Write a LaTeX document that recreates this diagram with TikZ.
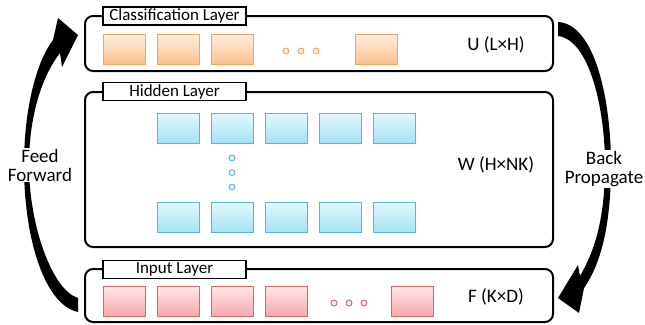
\documentclass[tikz,border=0pt]{standalone}
\usepackage{fontspec}
\setmainfont{Carlito}
\definecolor{obrd}{HTML}{F6A25A}
\definecolor{otop}{HTML}{FFEDDE}
\definecolor{obot}{HTML}{FBC08C}
\definecolor{bbrd}{HTML}{56B6D3}
\definecolor{btop}{HTML}{E2F8FD}
\definecolor{bbot}{HTML}{A4E2F4}
\definecolor{rbrd}{HTML}{D0686A}
\definecolor{rtop}{HTML}{FFE6E6}
\definecolor{rbot}{HTML}{F6A7A8}
\begin{document}
\begin{tikzpicture}[x=1pt,y=-1pt,
  layerbox/.style={draw, line width=2pt, rounded corners=8pt, inner sep=0pt, minimum width=468pt},
  tagbox/.style={draw, fill=white, line width=1.5pt, inner sep=0pt, minimum width=143pt, minimum height=18pt, font=\fontsize{17}{17}\selectfont},
  cell/.style={draw, line width=1pt, minimum width=42pt, minimum height=30pt, inner sep=0pt},
  ocell/.style={cell, draw=obrd, top color=otop, bottom color=obot},
  bcell/.style={cell, draw=bbrd, top color=btop, bottom color=bbot},
  rcell/.style={cell, draw=rbrd, top color=rtop, bottom color=rbot},
  dot/.style={circle, inner sep=0pt, minimum size=6pt, line width=0.9pt},
  odot/.style={dot, draw=obrd, fill=otop},
  bdot/.style={dot, draw=bbrd, fill=btop},
  rdot/.style={dot, draw=rbrd, fill=rtop},
  dims/.style={font=\fontsize{19}{19}\selectfont},
  sidelabel/.style={fill=white, align=center, inner sep=1pt, font=\fontsize{19}{19}\selectfont},
  bigarrow/.style={fill=black, draw=none}
]
\useasboundingbox (0,0) rectangle (645,324);

% arrows
\fill[bigarrow] (78,298) .. controls (52,290) and (29,225) .. (29,165)
  .. controls (29,110) and (45,72) .. (60,53)
  -- (62,67) -- (78,35) -- (58,18) -- (53,40)
  .. controls (36,62) and (24,110) .. (24,165)
  .. controls (24,240) and (45,305) .. (78,312) -- cycle;
\fill[bigarrow] (558,22) .. controls (595,24) and (611,100) .. (611,165)
  .. controls (611,228) and (600,265) .. (584,288)
  -- (579,313) -- (558,298) -- (578,265) -- (580,276)
  .. controls (594,252) and (605,220) .. (605,165)
  .. controls (605,110) and (590,40) .. (558,36) -- cycle;

\node[sidelabel] (ff) at (40,165) {Feed\\Forward};
\node[sidelabel] (bp) at (604,169) {Back\\Propagate};

% layer boxes
\node[layerbox, minimum height=55pt] (top) at (319,43.5) {};
\node[layerbox, minimum height=155pt] (hid) at (319,169.5) {};
\node[layerbox, minimum height=53pt] (inp) at (319,295.5) {};

\node[tagbox] (tt) at (174.5,16) {Classification Layer};
\node[tagbox] (th) at (174.5,91.5) {Hidden Layer};
\node[tagbox] (ti) at (174.5,269.5) {Input Layer};

% classification cells
\node[ocell] (o1) at (124,49.5) {};
\node[ocell] (o2) at (178,49.5) {};
\node[ocell] (o3) at (232,49.5) {};
\node[odot] (od1) at (286,51) {};
\node[odot] (od2) at (301,51) {};
\node[odot] (od3) at (316,51) {};
\node[ocell] (o4) at (376,49.5) {};
\node[dims] (u) at (496,45) {U (L×H)};

% hidden cells
\foreach \i/\x in {1/178,2/232,3/286,4/340,5/394}{
  \node[bcell] (ha\i) at (\x,128) {};
  \node[bcell] (hb\i) at (\x,217.5) {};
}
\node[bdot] (hd1) at (232,158) {};
\node[bdot] (hd2) at (232,172.5) {};
\node[bdot] (hd3) at (232,187) {};
\node[dims] (w) at (496,165) {W (H×NK)};

% input cells
\node[rcell] (r1) at (124,301.5) {};
\node[rcell] (r2) at (178,301.5) {};
\node[rcell] (r3) at (232,301.5) {};
\node[rcell] (r4) at (286,301.5) {};
\node[rdot] (rd1) at (334,303) {};
\node[rdot] (rd2) at (349,303) {};
\node[rdot] (rd3) at (364,303) {};
\node[rcell] (r5) at (412,301.5) {};
\node[dims] (f) at (496,297) {F (K×D)};
\end{tikzpicture}
\end{document}
